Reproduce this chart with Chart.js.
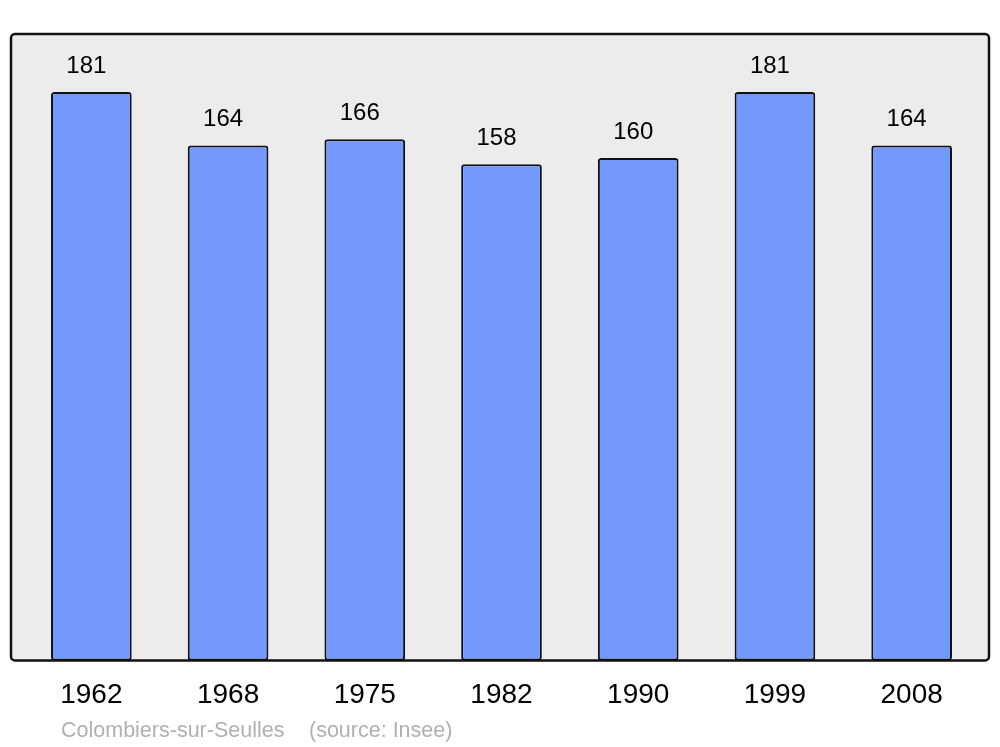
<!DOCTYPE html>
<html>
<head>
<meta charset="utf-8">
<script src="https://cdn.jsdelivr.net/npm/chart.js@4/dist/chart.umd.min.js"></script>
<style>
  html, body { margin: 0; padding: 0; background: #fff; }
  #wrap { width: 1000px; height: 747px; }
</style>
</head>
<body>
<div id="wrap"><canvas id="popChart" width="1000" height="747"></canvas></div>
<script>
// ===== Data =====
const years = ['1962', '1968', '1975', '1982', '1990', '1999', '2008'];
const population = [181, 164, 166, 158, 160, 181, 164];
const yMax = 199.5;

const FONT = "'Liberation Sans', Arial, sans-serif";

// box behind the bars + value labels + source line
const decorPlugin = {
  id: 'decor',
  beforeDraw(chart) {
    const { ctx, chartArea } = chart;
    const x = chartArea.left - 12, y = chartArea.top;
    const w = chartArea.right + 9 - x, h = chartArea.bottom - y;
    ctx.save();
    ctx.beginPath();
    ctx.roundRect(x, y, w, h, 4);
    ctx.fillStyle = '#ececec';
    ctx.fill();
    ctx.restore();
  },
  afterDatasetsDraw(chart) {
    const { ctx, chartArea } = chart;
    const x = chartArea.left - 12, y = chartArea.top;
    const w = chartArea.right + 9 - x, h = chartArea.bottom - y;
    ctx.save();
    ctx.beginPath();
    ctx.roundRect(x, y, w, h, 4);
    ctx.lineWidth = 2.5;
    ctx.strokeStyle = '#111';
    ctx.stroke();

    // value labels above bars
    const meta = chart.getDatasetMeta(0);
    ctx.fillStyle = '#000';
    ctx.font = '24px ' + FONT;
    ctx.textAlign = 'center';
    ctx.textBaseline = 'alphabetic';
    meta.data.forEach((bar, i) => {
      ctx.fillText(String(population[i]), bar.x - 5, bar.y - 19);
    });

    // source line
    ctx.fillStyle = '#b0b0b0';
    ctx.font = '21.5px ' + FONT;
    ctx.textAlign = 'left';
    ctx.fillText('Colombiers-sur-Seulles', 61, 737);
    ctx.fillText('(source: Insee)', 309, 737);
    ctx.restore();
  }
};

const chart = new Chart(document.getElementById('popChart'), {
  type: 'bar',
  data: {
    labels: years,
    datasets: [{
      data: population,
      backgroundColor: '#7399ff',
      borderColor: '#111',
      borderWidth: 2,
      borderRadius: 3,
      borderSkipped: false,
      barPercentage: 0.59,
      categoryPercentage: 1
    }]
  },
  options: {
    responsive: false,
    animation: false,
    layout: { padding: { top: 34, left: 23, right: 20, bottom: 17 } },
    plugins: {
      legend: { display: false },
      tooltip: { enabled: false }
    },
    scales: {
      x: {
        grid: { display: false, drawTicks: false },
        border: { display: false },
        ticks: {
          padding: 18,
          color: '#000',
          font: { family: FONT, size: 28 }
        }
      },
      y: {
        display: false,
        min: 0,
        max: yMax
      }
    }
  },
  plugins: [decorPlugin]
});
</script>
</body>
</html>
